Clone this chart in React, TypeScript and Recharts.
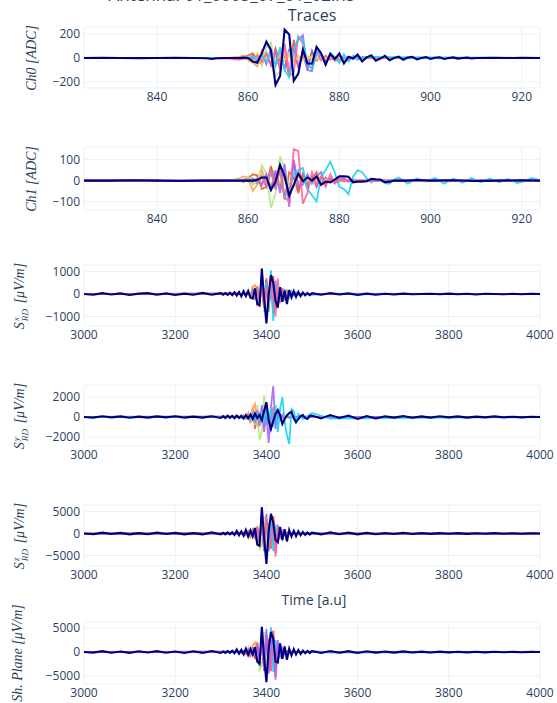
import React from 'react';
import { LineChart, Line, XAxis, YAxis, CartesianGrid } from 'recharts';

const INK = '#2a3f5f';
const GRID = '#ebf0f8';
const FONT = '"Open Sans", "Noto Sans", sans-serif';
const MATH_FONT = '"Liberation Serif", "DejaVu Serif", serif';
const NAVY = '#00007f';

const BLUE = '#636efa';
const RED = '#ef553b';
const PURPLE = '#ab63fa';
const ORANGE = '#ffa15a';
const CYAN = '#19d3f3';
const PINK = '#ff6692';
const LGREEN = '#b6e880';
const LPINK = '#ff97ff';
const YELLOW = '#fecb52';

// ---- Ch0 / Ch1 (samples 824..924) ----
const CH_X_TICKS = [840, 860, 880, 900, 920];
const CH_X = [824, 850,
  856, 857, 858, 859, 860, 861, 862, 863, 864, 865,
  866, 867, 868, 869, 870, 871, 872, 873, 874, 875,
  876, 877, 878, 879, 880, 881, 882, 883, 884, 885,
  900, 924];

const CH0_BLUE = [0, 0, 0, 2, -5, 5, -10, 20, -30, 40, -50, 80, -60, 30, -90, 70, 60, -80, 40, -100, 60, -20, 30, -30, 20, -10, 15, -10, 8, -5, 5, 0, 0, 0];
const CH0_RED = [0, 0, 0, 0, 5, 10, 20, 40, -20, -50, 30, -60, 80, -40, 20, -150, 150, -60, 20, -30, 40, -20, 10, -15, 12, -8, 6, -5, 3, 0, 2, 0, 0, 0];
const CH0_PURPLE = [0, 0, 0, 0, 0, -5, 5, -10, 15, -20, 40, -60, 60, -100, 100, -120, 70, 150, 190, -100, -110, 60, 30, -40, 20, -25, 15, -10, 8, -6, 3, 0, 0, 0];
const CH0_ORANGE = [0, 0, 0, 5, 10, 20, -20, -40, -70, 60, -30, 20, -40, 50, -20, 30, -20, 10, -10, 15, -5, -10, 10, -8, 6, -20, -25, -5, -15, 10, -8, 5, -3, 0];
const CH0_CYAN = [0, 0, 0, 0, 0, 5, -5, 10, -15, 20, -30, 50, -60, 90, -100, -160, 60, 170, 150, -50, -90, 40, 30, -60, 40, 10, -40, 30, -30, 20, -15, 10, 4, 0];
const CH0_PINK = [0, 0, 0, -8, -15, -5, 5, -10, 20, -30, 40, -50, 30, -80, 120, -150, -120, 180, 120, -60, -80, 50, -20, 20, -15, 10, -10, 5, -5, 3, -2, 0, 0, 0];
const CH0_LGREEN = [0, 0, 0, 0, 5, -10, 10, -30, 40, -60, 90, 130, -150, -110, 60, 40, -30, 20, -20, 10, -10, 8, -5, 5, -3, 2, 0, 0, 0, 0, 0, 0, 0, 0];
const CH0_LPINK = [0, 0, -10, -15, -8, -5, 0, 5, -5, 10, -20, 30, -20, -40, 50, -70, 40, -30, 30, -20, 15, -10, 8, -5, 3, -2, 0, 0, 0, 0, 0, 0, 0, 0];
const CH0_YELLOW = [0, 0, 0, 0, 5, 10, -5, -30, 20, -20, 10, 40, -30, 20, -10, 30, -20, 10, -10, 5, 10, -10, 5, -5, 3, -2, 0, 0, 0, 0, 0, 0, 0, 0];

const CH0_NAVY = [
  [824, 0], [828, 1], [832, 0], [836, -1], [840, 0], [844, 1], [848, 0], [851, -2], [852, -8], [853, -2],
  [855, 0], [858, 0], [859, 3], [860, 0], [861, -30], [862, -40], [863, 40], [864, 135], [865, 65], [866, -225],
  [867, -150], [868, 235], [869, 195], [870, -190], [871, -130], [872, 70], [873, -45], [874, -48], [875, 92], [876, 40],
  [877, -55], [878, 35], [879, -10], [880, 38], [881, -45], [882, 10], [883, -5], [884, 28], [885, -28], [886, 5],
  [887, 22], [888, -22], [889, -5], [890, 18], [891, -18], [892, 0], [893, 12], [894, -15], [895, 3], [896, 10],
  [897, -12], [898, 0], [899, 8], [900, -8], [901, 2], [902, 6], [903, -8], [904, 0], [905, 5], [906, -5],
  [907, 0], [908, 3], [909, -3], [910, 0], [914, 2], [918, 0], [920, 2], [924, 0],
];

const CH1_RED = [0, 0, 0, 0, 0, 5, 10, 30, 25, -40, -30, 70, -20, 50, -90, 40, 20, -60, 30, -20, 10, 40, -20, 15, -10, 5, -5, 3, 0, 0, 0, 0, 0, 0];
const CH1_LGREEN = [0, 0, 0, 0, 5, -10, 20, -20, -10, 75, 30, -130, -60, 115, 60, -40, -30, 20, -15, 10, -20, 8, -5, 5, -3, 2, 0, 0, 0, 0, 0, 0, 0, 0];
const CH1_ORANGE = [0, 0, 0, 5, 10, 20, 15, -50, -20, 50, -10, 60, 20, -30, 10, -20, 15, -10, 20, -5, 5, -10, 5, -8, 10, -5, 3, -2, 0, 0, 0, 0, 0, 0];
const CH1_PURPLE = [0, 0, 0, 0, 0, 0, 5, -5, 10, -20, 30, -40, 50, -60, 80, -125, 100, -30, -20, 30, -10, 20, 40, -20, 10, -15, 5, 10, -5, 5, -3, 0, 0, 0];
const CH1_PINK = [0, 0, 0, 0, -3, -5, 0, 10, -10, 20, -30, 40, -40, 60, -80, -100, 150, 140, -110, -60, 40, -20, 20, -30, 30, -10, 10, -5, 3, 0, 0, 0, 0, 0];
const CH1_BLUE = [0, 0, 0, 0, 0, 0, 5, -5, 10, -15, 20, -40, 30, -20, 50, -70, 90, -50, 30, -40, 20, -30, 15, -10, 5, -5, 3, 0, 0, 0, 0, 0, 0, 0];
const CH1_YELLOW = [0, 0, 0, 0, 0, 5, 10, -10, 20, -15, 10, -20, 15, -10, 30, -20, 10, -15, 10, -5, 5, -5, 3, 0, 0, 0, 0, 0, 0, 0, 0, 0, 0, 0];

const CH1_CYAN = [
  [824, 0], [850, 0], [856, 0], [858, 0], [859, 3], [860, -5], [861, 10], [862, -15], [863, 20], [864, -30],
  [865, 50], [866, -40], [867, 60], [868, -80], [869, -40], [870, 30], [871, 50], [872, 60], [873, -40], [874, -70],
  [875, -100], [876, 20], [877, 50], [878, 90], [879, 40], [880, -30], [881, -40], [882, -65], [883, 20], [884, 50],
  [885, 40], [886, 10], [887, -10], [888, 5], [889, 0], [890, -12], [891, -15], [892, 5], [893, 15], [894, 0],
  [895, -15], [897, 10], [899, -5], [901, 12], [903, -15], [905, 10], [907, -10], [909, 12], [911, -8], [913, 10],
  [915, -8], [917, 8], [919, -12], [921, 0], [922, 12], [923, 8], [924, 0],
];

const CH1_NAVY = [
  [824, 0], [830, 0], [835, 2], [840, 0], [845, -2], [850, 0], [855, 0], [860, 0], [861, 0], [862, 3],
  [863, 15], [864, 15], [865, -45], [866, -5], [867, 75], [868, 20], [869, -72], [870, -20], [871, 33], [872, -3],
  [873, 15], [874, 0], [875, 20], [876, -20], [877, -5], [878, -8], [879, 5], [880, 20], [881, 20], [882, 18],
  [883, -8], [884, -5], [885, -5], [886, -3], [887, 8], [888, 6], [889, 5], [890, -8], [891, -5], [892, 0],
  [895, 0], [897, 3], [900, 0], [905, 2], [910, -2], [915, 0], [920, 2], [924, 0],
];

// ---- Radio-detection channels (3000..4000) ----
const RD_X_TICKS = [3000, 3200, 3400, 3600, 3800, 4000];
const NAVY_X = [
  3000, 3020, 3040, 3060, 3080, 3100, 3120, 3140, 3160, 3180, 3200, 3220, 3240, 3260, 3280, 3300,
  3305, 3310, 3315, 3320, 3325, 3330, 3335, 3340, 3345, 3350,
  3355, 3360, 3365, 3370, 3375, 3380, 3385, 3390, 3395, 3400,
  3405, 3410, 3415, 3420, 3425, 3430, 3435, 3440, 3445, 3450,
  3455, 3460, 3465, 3470, 3475, 3480, 3485, 3490, 3495, 3500,
  3520, 3540, 3560, 3580, 3600, 3620, 3640, 3660, 3680, 3700, 3720, 3740, 3760,
  3780, 3800, 3820, 3840, 3860, 3880, 3900, 3920, 3940, 3960, 3980, 4000,
];
const BURST_X = [3000,
  3340, 3345, 3350, 3355, 3360, 3365, 3370, 3375, 3380, 3385,
  3390, 3395, 3400, 3405, 3410, 3415, 3420, 3425, 3430, 3435,
  3440, 3445, 3450, 3455, 3460, 3465, 3470,
  3480, 3500, 3540, 4000];

const SX_NAVY = [
  0, -30, 40, -20, 30, -40, 20, 40, -30, 30, -40, 20, -30, 50, -30, 40,
  -30, 40, -40, 60, -50, 80, -70, 90, -100, 120,
  -90, 130, -150, -200, 250, -450, -500, 1130, -200, -1300,
  0, 840, 500, -300, -600, 300, -350, 150, -450, 180,
  -150, 130, -120, 100, -90, 70, -60, 50, -50, 40,
  -30, 40, -20, 30, -40, 20, -30, 10, -20, 20, -10, 0, 10, -10, 20, -10, 10, -20, 10, 0, -10, 10, -10, 10, 0,
];
const SX_RED = [0, 20, -30, 50, -60, 80, -120, 200, -250, 350, -400, 500, -600, 700, -500, 300, 800, -700, -300, 300, -200, 150, -100, 80, -60, 40, -30, 20, -10, 0, 0, 0];
const SX_ORANGE = [0, 30, -40, 60, -80, 120, -200, 350, 400, -550, -300, 600, -700, 500, -400, 300, -300, 200, -150, 100, -80, 60, -50, 40, -30, 20, -15, 10, -5, 5, 0, 0];
const SX_LGREEN = [0, 10, -20, 30, -50, 80, -100, 150, -200, 300, -600, 900, -800, 600, -300, 200, -150, 100, -80, 60, -40, 30, -20, 15, -10, 5, 0, 0, 0, 0, 0, 0];
const SX_PURPLE = [0, 10, -10, 20, -30, 40, -60, 100, -150, 200, -300, 400, -500, 600, -700, 500, -900, 600, -400, 300, -200, 100, -80, 60, -40, 30, -20, 10, -5, 0, 0, 0];
const SX_PINK = [0, 15, -20, 25, -40, 60, -80, 120, -150, 200, -300, 400, -500, 300, -600, 800, -200, -1000, 700, -400, 250, -150, 100, -60, 40, -30, 20, -10, 5, 0, 0, 0];
const SX_CYAN = [0, 20, -30, 40, -60, 80, -100, 150, -200, 250, -300, 350, -400, 500, -800, 1050, -1200, 400, 300, -350, 250, -300, 200, -150, 120, -80, 60, -40, 30, -40, 20, 0];

const SY_NAVY = [
  0, -60, 80, -40, 60, -80, 40, -60, 60, -40, 80, -60, 40, -60, 80, -100,
  80, -100, 120, -80, 100, -120, 150, -100, 120, -150,
  200, -150, 250, -200, 350, -100, 200, -300, 600, 1480,
  -300, -1200, -400, 300, 690, 200, -690, -200, 150, 400,
  520, -100, -520, -200, 100, 200, -100, -200, 100, 150,
  -150, 200, -100, 150, -200, 100, -150, 80, -60, 100, -80, 60, -60, 80, -40, 60, -60, 40, -40, 60, -40, 30, -40, 20, 0,
];
const SY_RED = [0, 30, -60, 100, -150, 300, -600, 800, -1200, 500, -300, 400, -200, 300, -500, 400, -300, 200, -150, 100, -80, 60, -40, 30, -20, 10, 0, 0, 0, 0, 0, 0];
const SY_ORANGE = [0, 40, -80, 150, -200, 400, -500, 900, 1300, -1000, 500, -400, 300, -200, 150, -100, 80, -60, 40, -30, 20, -10, 5, 0, 0, 0, 0, 0, 0, 0, 0, 0];
const SY_LGREEN = [0, 20, -30, 60, -100, 150, -300, 500, -800, 1200, -2300, -1500, 2200, -800, 400, -300, 200, -150, 100, -80, 60, -40, 20, -10, 0, 0, 0, 0, 0, 0, 0, 0];
const SY_PURPLE = [0, 10, -20, 40, -60, 100, -150, 250, -400, 600, -900, 1200, -1500, 600, -2600, 1000, 3100, -1200, 500, -300, 200, -150, 100, -60, 40, -20, 10, 0, 0, 0, 0, 0];
const SY_PINK = [0, 20, -30, 50, -80, 120, -200, 300, -500, 700, -800, 900, -1000, 1200, -600, -1100, 1000, -700, 500, -300, 200, -150, 100, -60, 40, -20, 10, 0, 0, 0, 0, 0];
const SY_CYAN = [0, 30, -40, 60, -80, 100, -150, 200, -300, 300, -400, 500, -600, 700, -800, 900, -1000, 1200, -1500, 800, 2000, -500, -1800, -2700, 800, 600, -400, 300, -200, 400, -150, 0];

const SZ_NAVY = [
  0, -150, 200, -100, 150, -200, 100, -150, 200, -100, 150, -200, 100, -200, 250, -200,
  150, -200, 250, -200, 300, -300, 600, -400, 500, -500,
  800, -700, 700, -600, 1200, -2500, -2800, 6000, -1000, -6900,
  500, 4500, 2500, -1500, -2000, 1500, -1500, 1000, -1800, 800,
  -700, 600, -600, 500, -400, 350, -300, 250, -250, 200,
  -200, 250, -150, 200, -200, 150, -150, 100, -100, 150, -100, 80, -80, 100, -60, 80, -80, 60, -60, 80, -60, 40, -60, 40, 0,
];
const SZ_RED = [0, 50, -80, 150, -250, 400, -600, 800, -1000, 1500, -2000, 3500, -4000, 3000, 2000, -3500, 4000, -2500, 1500, -800, 500, -300, 200, -100, 60, -30, 0, 0, 0, 0, 0, 0];
const SZ_ORANGE = [0, 80, -150, 300, -400, 600, -800, 1000, 1300, -1500, -1000, 2500, -3000, 2000, -1500, 1000, -800, 500, -300, 200, -100, 60, -30, 0, 0, 0, 0, 0, 0, 0, 0, 0];
const SZ_LGREEN = [0, 40, -60, 100, -200, 300, -500, 700, -1000, 1800, -3500, -2500, 4000, -3000, 1500, -800, 500, -300, 200, -100, 60, -30, 0, 0, 0, 0, 0, 0, 0, 0, 0, 0];
const SZ_PURPLE = [0, 30, -50, 80, -120, 200, -300, 500, -800, 1200, -1800, 2500, -3500, 4500, -4000, 1500, 3000, -4500, 2000, -1000, 600, -300, 200, -100, 50, 0, 0, 0, 0, 0, 0, 0];
const SZ_PINK = [0, 40, -60, 100, -150, 250, -400, 600, -900, 1400, -2000, 2800, -3000, 3500, -2500, -3000, 4000, -5300, 1500, -800, 500, -300, 200, -100, 50, 0, 0, 0, 0, 0, 0, 0];
const SZ_CYAN = [0, 50, -80, 120, -180, 300, -400, 600, -800, 1200, -1500, 2000, -2500, 3000, -3500, 4500, -4000, 2000, -1000, 800, -1200, 600, -400, 300, -200, 100, -80, 50, -30, 200, -100, 0];

const SP_NAVY = [
  0, -120, 180, -150, 120, -180, 150, -100, 180, -150, 120, -200, 150, -180, 220, -200,
  130, -180, 220, -180, 280, -250, 550, -350, 450, -450,
  700, -600, 650, -500, 1000, -2000, -2500, 5300, -1200, -6300,
  800, 4200, 2800, -2000, -2200, 1800, -1400, 1200, -1600, 700,
  -700, 600, -500, 450, -400, 300, -250, 250, -200, 200,
  -180, 220, -150, 180, -200, 150, -120, 100, -120, 130, -90, 80, -80, 90, -60, 70, -70, 50, -60, 70, -50, 40, -50, 30, 0,
];
const SP_RED = [0, 60, -100, 200, -300, 500, -700, 1000, -1500, 2000, -2500, 3500, -4000, 3000, 2500, -4000, 4500, -3000, 1500, -800, 500, -300, 200, -100, 60, -30, 0, 0, 0, 0, 0, 0];
const SP_ORANGE = [0, 100, -200, 300, -500, 800, -1000, 1500, 2000, -2000, -1500, 2500, -3000, 2000, -1500, 1000, -800, 500, -300, 200, -100, 60, -30, 0, 0, 0, 0, 0, 0, 0, 0, 0];
const SP_LGREEN = [0, 50, -80, 120, -200, 300, -500, 900, -1300, 2200, -3800, -2800, 4200, -3000, 1500, -800, 500, -300, 200, -100, 60, -30, 0, 0, 0, 0, 0, 0, 0, 0, 0, 0];
const SP_PURPLE = [0, 40, -60, 100, -150, 250, -400, 600, -900, 1300, -2000, 2800, -3800, 4800, -4500, 1800, 3500, -5800, 2500, -1200, 700, -400, 200, -100, 50, 0, 0, 0, 0, 0, 0, 0];
const SP_PINK = [0, 50, -80, 120, -200, 300, -500, 700, -1000, 1500, -2200, 3000, -3300, 3800, -2800, -3500, 4300, -5200, 1800, -900, 600, -300, 200, -100, 50, 0, 0, 0, 0, 0, 0, 0];
const SP_CYAN = [0, 60, -100, 150, -200, 300, -500, 700, -900, 1300, -1800, 2300, -2800, 3300, -3800, 5200, -4200, 2500, -1200, 1000, -1500, 800, -500, 400, -250, 150, -100, 60, -40, 250, -100, 0];

type Series = { key: string; color: string; xs: number[]; ys: number[]; main?: boolean };

const split = (pairs: number[][]) => ({ xs: pairs.map((p) => p[0]), ys: pairs.map((p) => p[1]) });

function mergeRows(series: Series[]) {
  const map = new Map<number, Record<string, number>>();
  series.forEach((s) => {
    s.xs.forEach((x, i) => {
      const y = s.ys[i];
      if (y === undefined) return;
      const row = map.get(x) ?? { x };
      row[s.key] = y;
      map.set(x, row);
    });
  });
  return Array.from(map.values()).sort((a, b) => a.x - b.x);
}

const fmt = (v: number) => (v < 0 ? `\u2212${Math.abs(v)}` : `${v}`);

const SLabel = ({ sup }: { sup: string }) => (
  <span>
    S
    <span style={{ display: 'inline-flex', flexDirection: 'column', verticalAlign: 'middle', fontSize: '0.66em', lineHeight: 0.95, margin: '0 2px 0 1px' }}>
      <span>{sup}</span>
      <span>RD</span>
    </span>
    {' '}[μV/m]
  </span>
);

const PANELS = [
  {
    top: 27, bottom: 88, xDomain: [824, 924], xTicks: CH_X_TICKS, yDomain: [-250, 258], yTicks: [-200, 0, 200],
    labelX: 32, label: <span>Ch0 [ADC]</span>,
    series: [
      { key: 'b', color: BLUE, xs: CH_X, ys: CH0_BLUE },
      { key: 'r', color: RED, xs: CH_X, ys: CH0_RED },
      { key: 'p', color: PURPLE, xs: CH_X, ys: CH0_PURPLE },
      { key: 'o', color: ORANGE, xs: CH_X, ys: CH0_ORANGE },
      { key: 'g', color: LGREEN, xs: CH_X, ys: CH0_LGREEN },
      { key: 'lp', color: LPINK, xs: CH_X, ys: CH0_LPINK },
      { key: 'y', color: YELLOW, xs: CH_X, ys: CH0_YELLOW },
      { key: 'pk', color: PINK, xs: CH_X, ys: CH0_PINK },
      { key: 'c', color: CYAN, xs: CH_X, ys: CH0_CYAN },
      { key: 'n', color: NAVY, ...split(CH0_NAVY), main: true },
    ],
  },
  {
    top: 147, bottom: 210, xDomain: [824, 924], xTicks: CH_X_TICKS, yDomain: [-140, 160], yTicks: [-100, 0, 100],
    labelX: 32, label: <span>Ch1 [ADC]</span>,
    series: [
      { key: 'b', color: BLUE, xs: CH_X, ys: CH1_BLUE },
      { key: 'y', color: YELLOW, xs: CH_X, ys: CH1_YELLOW },
      { key: 'o', color: ORANGE, xs: CH_X, ys: CH1_ORANGE },
      { key: 'r', color: RED, xs: CH_X, ys: CH1_RED },
      { key: 'g', color: LGREEN, xs: CH_X, ys: CH1_LGREEN },
      { key: 'p', color: PURPLE, xs: CH_X, ys: CH1_PURPLE },
      { key: 'c', color: CYAN, ...split(CH1_CYAN) },
      { key: 'pk', color: PINK, xs: CH_X, ys: CH1_PINK },
      { key: 'n', color: NAVY, ...split(CH1_NAVY), main: true },
    ],
  },
  {
    top: 265, bottom: 326, xDomain: [3000, 4000], xTicks: RD_X_TICKS, yDomain: [-1420, 1290], yTicks: [-1000, 0, 1000],
    labelX: 21, label: <SLabel sup="x" />,
    series: [
      { key: 'o', color: ORANGE, xs: BURST_X, ys: SX_ORANGE },
      { key: 'g', color: LGREEN, xs: BURST_X, ys: SX_LGREEN },
      { key: 'r', color: RED, xs: BURST_X, ys: SX_RED },
      { key: 'p', color: PURPLE, xs: BURST_X, ys: SX_PURPLE },
      { key: 'c', color: CYAN, xs: BURST_X, ys: SX_CYAN },
      { key: 'pk', color: PINK, xs: BURST_X, ys: SX_PINK },
      { key: 'n', color: NAVY, xs: NAVY_X, ys: SX_NAVY, main: true },
    ],
  },
  {
    top: 385, bottom: 446, xDomain: [3000, 4000], xTicks: RD_X_TICKS, yDomain: [-2900, 3200], yTicks: [-2000, 0, 2000],
    labelX: 21, label: <SLabel sup="y" />,
    series: [
      { key: 'r', color: RED, xs: BURST_X, ys: SY_RED },
      { key: 'o', color: ORANGE, xs: BURST_X, ys: SY_ORANGE },
      { key: 'g', color: LGREEN, xs: BURST_X, ys: SY_LGREEN },
      { key: 'pk', color: PINK, xs: BURST_X, ys: SY_PINK },
      { key: 'p', color: PURPLE, xs: BURST_X, ys: SY_PURPLE },
      { key: 'c', color: CYAN, xs: BURST_X, ys: SY_CYAN },
      { key: 'n', color: NAVY, xs: NAVY_X, ys: SY_NAVY, main: true },
    ],
  },
  {
    top: 505, bottom: 566, xDomain: [3000, 4000], xTicks: RD_X_TICKS, yDomain: [-7400, 6500], yTicks: [-5000, 0, 5000],
    labelX: 21, label: <SLabel sup="z" />,
    series: [
      { key: 'o', color: ORANGE, xs: BURST_X, ys: SZ_ORANGE },
      { key: 'g', color: LGREEN, xs: BURST_X, ys: SZ_LGREEN },
      { key: 'r', color: RED, xs: BURST_X, ys: SZ_RED },
      { key: 'p', color: PURPLE, xs: BURST_X, ys: SZ_PURPLE },
      { key: 'c', color: CYAN, xs: BURST_X, ys: SZ_CYAN },
      { key: 'pk', color: PINK, xs: BURST_X, ys: SZ_PINK },
      { key: 'n', color: NAVY, xs: NAVY_X, ys: SZ_NAVY, main: true },
    ],
  },
  {
    top: 622, bottom: 684, xDomain: [3000, 4000], xTicks: RD_X_TICKS, yDomain: [-6700, 6300], yTicks: [-5000, 0, 5000],
    labelX: 18, label: <span>Sh. Plane [μV/m]</span>,
    series: [
      { key: 'o', color: ORANGE, xs: BURST_X, ys: SP_ORANGE },
      { key: 'g', color: LGREEN, xs: BURST_X, ys: SP_LGREEN },
      { key: 'r', color: RED, xs: BURST_X, ys: SP_RED },
      { key: 'c', color: CYAN, xs: BURST_X, ys: SP_CYAN },
      { key: 'pk', color: PINK, xs: BURST_X, ys: SP_PINK },
      { key: 'p', color: PURPLE, xs: BURST_X, ys: SP_PURPLE },
      { key: 'n', color: NAVY, xs: NAVY_X, ys: SP_NAVY, main: true },
    ],
  },
];

const PAD = 5;
const XH = 24;
const tickStyle = { fill: INK, fontSize: 12, fontFamily: FONT };

const Panel = ({ p }: { p: (typeof PANELS)[number] }) => {
  const series = p.series as Series[];
  const rows = mergeRows(series);
  return (
    <>
      <div style={{ position: 'absolute', left: 0, top: p.top - PAD }}>
        <LineChart width={557} height={p.bottom - p.top + PAD + XH} data={rows}
          margin={{ top: PAD, right: 17, bottom: 0, left: 0 }}>
          <CartesianGrid stroke={GRID} />
          <XAxis type="number" dataKey="x" domain={p.xDomain} ticks={p.xTicks} allowDataOverflow interval={0}
            axisLine={false} tickLine={false} tickSize={0} tickMargin={4} height={XH} tick={tickStyle} />
          <YAxis type="number" domain={p.yDomain} ticks={p.yTicks} allowDataOverflow interval={0} width={84}
            axisLine={false} tickLine={false} tickSize={0} tickMargin={4} tick={tickStyle} tickFormatter={fmt} />
          {series.map((s) => (
            <Line key={s.key} type="linear" dataKey={s.key} stroke={s.color}
              strokeWidth={s.main ? 2.1 : 1.8} strokeOpacity={s.main ? 1 : 0.9}
              dot={false} activeDot={false} connectNulls isAnimationActive={false} />
          ))}
        </LineChart>
      </div>
      <div style={{
        position: 'absolute', left: p.labelX, top: (p.top + p.bottom) / 2,
        transform: 'translate(-50%, -50%) rotate(-90deg)', whiteSpace: 'nowrap',
        fontFamily: MATH_FONT, fontStyle: 'italic', fontSize: 14, color: INK,
      }}>
        {p.label}
      </div>
    </>
  );
};

export default function App() {
  return (
    <div style={{ position: 'absolute', left: 0, top: 0, width: 557, height: 703, overflow: 'hidden', background: '#fff', fontFamily: FONT }}>
      {/* file title, mostly above the top edge as in the original */}
      <div style={{ position: 'absolute', left: 232, top: -15.5, transform: 'translateX(-50%)', fontSize: 17, lineHeight: '20px', color: INK, whiteSpace: 'nowrap' }}>
        Antenna: 01_0005_07_01_02.h5
      </div>
      <div style={{ position: 'absolute', left: 312, top: 5, transform: 'translateX(-50%)', fontSize: 16, lineHeight: '20px', color: INK }}>
        Traces
      </div>
      <div style={{ position: 'absolute', left: 314, top: 590, transform: 'translateX(-50%)', fontSize: 14, lineHeight: '20px', color: INK }}>
        Time [a.u]
      </div>
      {PANELS.map((p, i) => (
        <Panel key={i} p={p} />
      ))}
    </div>
  );
}
